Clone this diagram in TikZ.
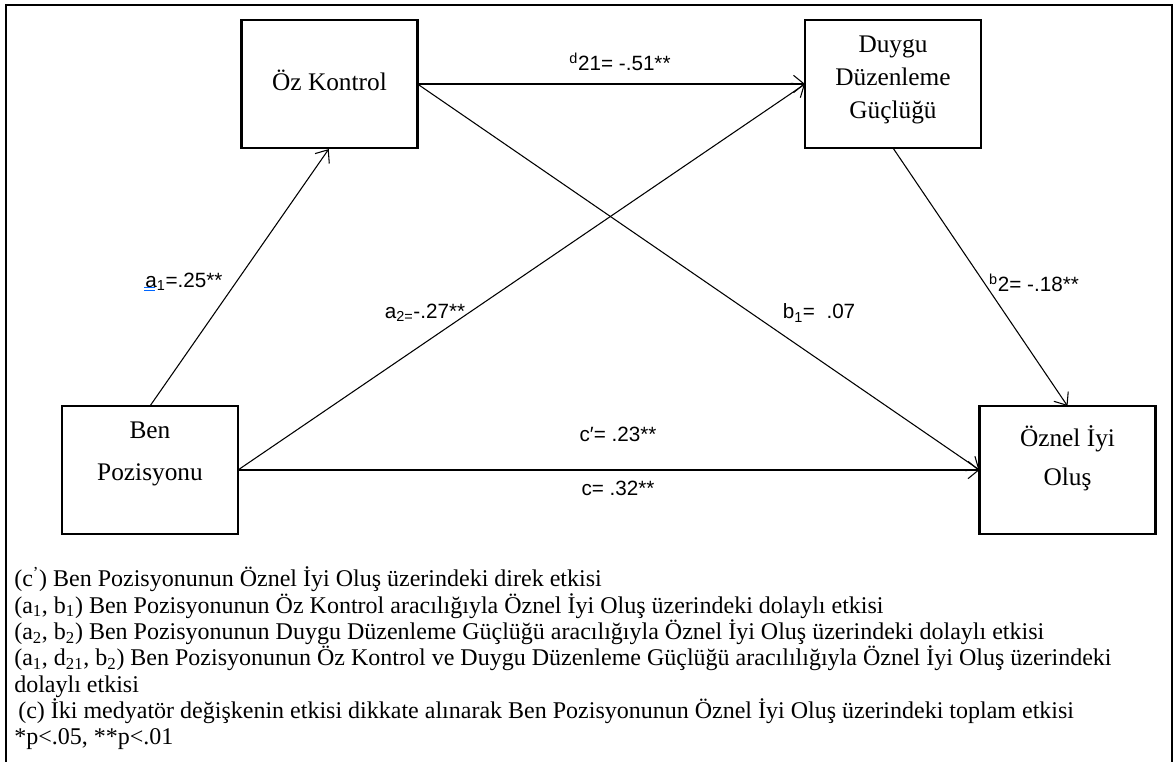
\documentclass[tikz,border=0pt]{standalone}
\usepackage{fontspec}
\setmainfont{Liberation Serif}
\newfontfamily\labelfont{Liberation Sans}
\usetikzlibrary{arrows.meta,calc}
\begin{document}
\begin{tikzpicture}[x=0.75pt,y=-0.75pt,
  box/.style={draw,line width=2pt,minimum width=132pt,minimum height=96pt,inner sep=0pt,outer sep=0pt},
  boxtext/.style={font=\fontsize{19}{24.5}\selectfont,align=center,inner sep=0pt},
  lbl/.style={font=\labelfont\fontsize{15.5}{18}\selectfont,inner sep=0pt},
  conn/.style={line width=0.8pt,-{Straight Barb[length=8pt,width=13pt,line width=0.8pt]}},
  note/.style={font=\fontsize{18}{20}\selectfont,anchor=base west,inner sep=0pt}]
\useasboundingbox (0,0) rectangle (1175,762);
\fill[white] (0,0) rectangle (1175,762);
\draw[line width=2.2pt] (6,762) -- (6,5) -- (1172,5) -- (1172,762);
% boxes
\node[box] (oz) at (329.5,84) {};
\node[box] (duygu) at (893,84) {};
\node[box] (ben) at (150,470) {};
\node[box] (oznel) at (1067.5,470) {};
% box texts
\node[boxtext] (tOz) at (329.5,80) {Öz Kontrol};
\node[boxtext] (tDuygu) at (893,80) {Duygu\\Düzenleme\\Güçlüğü};
\node[boxtext,font=\fontsize{19}{31}\selectfont] (tBen) at (150,454) {Ben\\Pozisyonu};
\node[boxtext,font=\fontsize{19}{29.5}\selectfont] (tOznel) at (1067.5,458) {Öznel İyi\\Oluş};
% connectors
\draw[conn,shorten >=1pt] (ben.north) -- (oz.south);
\draw[conn] (ben.east) -- (duygu.west);
\draw[conn,line width=1.3pt] (oz.east) -- (duygu.west);
\draw[conn] (oz.east) -- (oznel.west);
\draw[conn,line width=1.3pt] (ben.east) -- (oznel.west);
\draw[conn] (duygu.south) -- (oznel.north);
% labels
\node[lbl] (ld21) at (620,62) {\textsuperscript{d}21= -.51**};
\node[lbl] (la1) at (184,282) {a\textsubscript{1}=.25**};
\node[lbl] (la2) at (425,313) {a\textsubscript{2=}-.27**};
\node[lbl] (lb1) at (819,313) {b\textsubscript{1}= \ .07};
\node[lbl] (lb2) at (1034,283) {\textsuperscript{b}2= -.18**};
\node[lbl] (lcp) at (618,434) {c′= .23**};
\node[lbl] (lc) at (618,488) {c= .32**};
\draw[blue!60!cyan,line width=0.6pt] (144,287) -- (155,287) (144,290) -- (155,290);
% notes
\node[note] (n1) at (14,587) {(c\textsuperscript{’}) Ben Pozisyonunun Öznel İyi Oluş üzerindeki direk etkisi};
\node[note] (n2) at (14,613.3) {(a\textsubscript{1}, b\textsubscript{1}) Ben Pozisyonunun Öz Kontrol aracılığıyla Öznel İyi Oluş üzerindeki dolaylı etkisi};
\node[note] (n3) at (14,639.6) {(a\textsubscript{2}, b\textsubscript{2}) Ben Pozisyonunun Duygu Düzenleme Güçlüğü aracılığıyla Öznel İyi Oluş üzerindeki dolaylı etkisi};
\node[note] (n4) at (14,665.9) {(a\textsubscript{1}, d\textsubscript{21}, b\textsubscript{2}) Ben Pozisyonunun Öz Kontrol ve Duygu Düzenleme Güçlüğü aracılılığıyla Öznel İyi Oluş üzerindeki};
\node[note] (n5) at (14,692.2) {dolaylı etkisi};
\node[note] (n6) at (18,718.5) {(c) İki medyatör değişkenin etkisi dikkate alınarak Ben Pozisyonunun Öznel İyi Oluş üzerindeki toplam etkisi};
\node[note] (n7) at (14,744.8) {*p<.05, **p<.01};
\end{tikzpicture}
\end{document}
